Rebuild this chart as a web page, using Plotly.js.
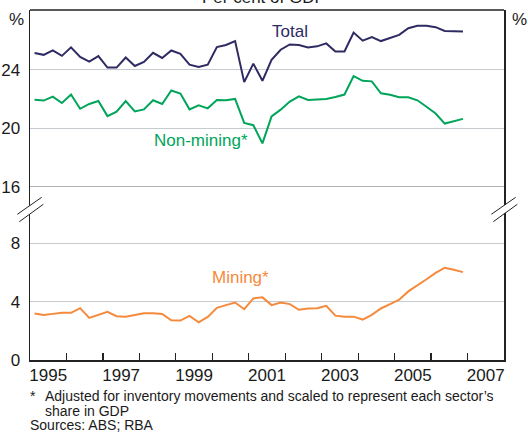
<!DOCTYPE html>
<html><head><meta charset="utf-8">
<script src="https://cdn.plot.ly/plotly-3.0.1.min.js"></script>
<style>html,body{margin:0;padding:0;background:#fff}#chart{width:528px;height:433px}</style>
</head><body><div id="chart"></div>
<script>
// Quarterly observations (mid-quarter, decimal years)
const quarters = [
  1995.125,1995.375,1995.625,1995.875,
  1996.125,1996.375,1996.625,1996.875,
  1997.125,1997.375,1997.625,1997.875,
  1998.125,1998.375,1998.625,1998.875,
  1999.125,1999.375,1999.625,1999.875,
  2000.125,2000.375,2000.625,2000.875,
  2001.125,2001.375,2001.625,2001.875,
  2002.125,2002.375,2002.625,2002.875,
  2003.125,2003.375,2003.625,2003.875,
  2004.125,2004.375,2004.625,2004.875,
  2005.125,2005.375,2005.625,2005.875,
  2006.125,2006.375,2006.625,2006.875
];
const total = [
  25.13,25.01,25.31,24.94,25.52,24.87,24.55,24.92,
  24.14,24.14,24.83,24.25,24.53,25.15,24.80,25.31,
  25.08,24.34,24.18,24.34,25.54,25.68,25.95,23.15,
  24.41,23.24,24.67,25.36,25.72,25.68,25.52,25.59,
  25.79,25.24,25.24,26.53,25.98,26.23,25.95,26.16,
  26.37,26.83,26.99,26.99,26.90,26.64,26.62,26.60
];
const nonMining = [
  21.95,21.89,22.16,21.72,22.30,21.33,21.66,21.86,
  20.83,21.13,21.86,21.15,21.29,21.91,21.66,22.58,
  22.37,21.29,21.56,21.36,21.93,21.91,22.00,20.37,
  20.21,18.97,20.81,21.27,21.82,22.18,21.93,21.98,
  22.00,22.14,22.30,23.56,23.24,23.20,22.39,22.28,
  22.12,22.12,21.91,21.47,21.01,20.32,20.48,20.64
];
const mining = [
  3.18,3.09,3.16,3.23,3.23,3.55,2.88,3.09,
  3.30,3.00,2.97,3.09,3.21,3.21,3.16,2.72,
  2.70,3.02,2.58,2.95,3.57,3.76,3.94,3.48,
  4.22,4.29,3.76,3.94,3.83,3.44,3.53,3.55,
  3.71,3.04,2.97,2.97,2.77,3.09,3.53,3.83,
  4.13,4.70,5.10,5.53,5.97,6.32,6.18,6.02
];
const yearTicks = [1996,1997,1998,1999,2000,2001,2002,2003,2004,2005,2006,2007];
const yearLabelPos = [1995.5,1997.5,1999.5,2001.5,2003.5,2005.5,2007.5];
const yearLabels = ['1995','1997','1999','2001','2003','2005','2007'];
const topTicks = [16,20,24];
const bottomTicks = [0,4,8];

const NAVY = '#2e2b62', GREEN = '#00a55a', ORANGE = '#f58a3c';
const AX = '#222222', GRID = '#c6cbd0', TXT = '#1a1a1a';
const FONT = 'Liberation Sans, Arial, sans-serif';

const traces = [
  {x: quarters, y: total, xaxis: 'x', yaxis: 'y2', mode: 'lines', line: {color: NAVY, width: 2}, hoverinfo: 'skip'},
  {x: quarters, y: nonMining, xaxis: 'x', yaxis: 'y2', mode: 'lines', line: {color: GREEN, width: 2}, hoverinfo: 'skip'},
  {x: quarters, y: mining, xaxis: 'x', yaxis: 'y', mode: 'lines', line: {color: ORANGE, width: 2}, hoverinfo: 'skip'}
];

const splitDom = 0.4946;
const botRange = [0, 11.86];
const topRange = [16, 28.07];
const yCommon = {showgrid: true, gridcolor: GRID, gridwidth: 1.2, zeroline: false, ticks: '',
  tickfont: {size: 17, color: TXT, family: FONT}, ticklabelstandoff: 5, fixedrange: true};

function px(v){ return (v - 30) / 474; }
function py(v){ return (360 - v) / 350; }

function breakShapes(cx){
  const d = cx - 30;
  const A0 = [px(17.3 + d), py(214.3)], A1 = [px(41.7 + d), py(197.3)];
  const B0 = [px(19.3 + d), py(221.7)], B1 = [px(43.3 + d), py(204.3)];
  return [
    {type: 'path', xref: 'paper', yref: 'paper', layer: 'above',
     path: `M ${A0[0]} ${A0[1]} L ${A1[0]} ${A1[1]} L ${B1[0]} ${B1[1]} L ${B0[0]} ${B0[1]} Z`,
     fillcolor: '#ffffff', line: {width: 0}},
    {type: 'line', xref: 'paper', yref: 'paper', layer: 'above', x0: A0[0], y0: A0[1], x1: A1[0], y1: A1[1], line: {color: AX, width: 1}},
    {type: 'line', xref: 'paper', yref: 'paper', layer: 'above', x0: B0[0], y0: B0[1], x1: B1[0], y1: B1[1], line: {color: AX, width: 1}}
  ];
}

const layout = {
  width: 528, height: 433,
  margin: {l: 30, r: 24, t: 10, b: 73, pad: 0},
  paper_bgcolor: '#ffffff', plot_bgcolor: '#ffffff',
  showlegend: false,
  font: {family: FONT, color: TXT},
  xaxis: {range: [1995, 2008], tickmode: 'array', tickvals: yearLabelPos, ticktext: yearLabels, ticks: '',
    tickfont: {size: 17, color: TXT, family: FONT}, ticklabelstandoff: -1,
    minor: {tickmode: 'array', tickvals: yearTicks, ticks: 'inside', ticklen: 7, tickwidth: 1.2, tickcolor: AX, showgrid: false},
    showgrid: false, zeroline: false, showline: true, linecolor: AX, linewidth: 1.5,
    anchor: 'y', fixedrange: true},
  yaxis: Object.assign({}, yCommon, {domain: [0, splitDom], range: botRange, tickvals: bottomTicks, anchor: 'x',
    showline: true, linecolor: AX, linewidth: 1.5, mirror: true}),
  yaxis2: Object.assign({}, yCommon, {domain: [splitDom, 1], range: topRange, tickvals: topTicks, anchor: 'x',
    showline: true, linecolor: AX, linewidth: 1.5, mirror: true}),
  yaxis3: Object.assign({}, yCommon, {overlaying: 'y', side: 'right', anchor: 'x', range: botRange, tickvals: bottomTicks, showgrid: false}),
  yaxis4: Object.assign({}, yCommon, {overlaying: 'y2', side: 'right', anchor: 'x', range: topRange, tickvals: topTicks, showgrid: false}),
  shapes: [
    {type: 'line', xref: 'paper', yref: 'y2', x0: 0, x1: 1, y0: 16, y1: 16, layer: 'below', line: {color: '#aeb3b8', width: 2}},
    {type: 'line', xref: 'paper', yref: 'paper', x0: 0, x1: 1, y0: 1, y1: 1, layer: 'above', line: {color: AX, width: 1.5}}
  ].concat(breakShapes(30)).concat(breakShapes(504)),
  annotations: [
    {text: 'Per cent of GDP', xref: 'paper', yref: 'paper', x: 0.494, y: 1.0343, xanchor: 'center', yanchor: 'middle', showarrow: false, font: {size: 17, color: TXT}},
    {text: '%', xref: 'paper', yref: 'paper', x: -0.0278, y: 0.974, xanchor: 'center', yanchor: 'middle', showarrow: false, font: {size: 17, color: TXT}},
    {text: '%', xref: 'paper', yref: 'paper', x: 1.0325, y: 0.974, xanchor: 'center', yanchor: 'middle', showarrow: false, font: {size: 17, color: TXT}},
    {text: 'Total', xref: 'paper', yref: 'paper', x: 0.5485, y: 0.9386, xanchor: 'center', yanchor: 'middle', showarrow: false, font: {size: 17, color: NAVY}},
    {text: 'Non-mining*', xref: 'paper', yref: 'paper', x: 0.3618, y: 0.627, xanchor: 'center', yanchor: 'middle', showarrow: false, font: {size: 17, color: GREEN}},
    {text: 'Mining*', xref: 'paper', yref: 'paper', x: 0.4437, y: 0.2357, xanchor: 'center', yanchor: 'middle', showarrow: false, font: {size: 17, color: ORANGE}},
    {text: '*', xref: 'paper', yref: 'paper', x: -0.004, y: -0.1029, xanchor: 'left', yanchor: 'middle', showarrow: false, font: {size: 14, color: TXT}},
    {text: 'Adjusted for inventory movements and scaled to represent each sector\u2019s', xref: 'paper', yref: 'paper', x: 0.028, y: -0.1029, xanchor: 'left', yanchor: 'middle', showarrow: false, font: {size: 14, color: TXT}},
    {text: 'share in GDP', xref: 'paper', yref: 'paper', x: 0.028, y: -0.1457, xanchor: 'left', yanchor: 'middle', showarrow: false, font: {size: 14, color: TXT}},
    {text: 'Sources: ABS; RBA', xref: 'paper', yref: 'paper', x: -0.004, y: -0.187, xanchor: 'left', yanchor: 'middle', showarrow: false, font: {size: 14, color: TXT}}
  ]
};

Plotly.newPlot('chart', traces, layout, {staticPlot: true, displayModeBar: false});
</script>
</body></html>
